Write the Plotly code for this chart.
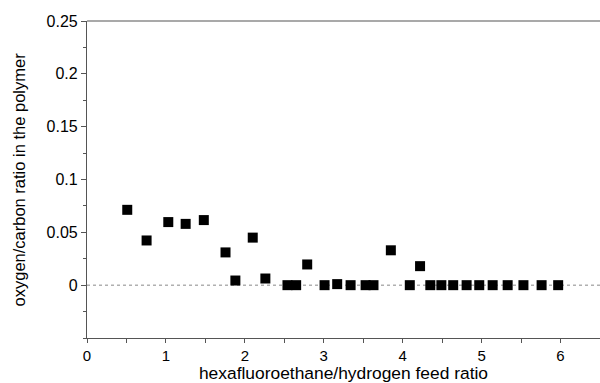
import plotly.graph_objects as go

feed_ratio = [0.51, 0.755, 1.03, 1.25, 1.48, 1.755, 1.88, 2.10, 2.26, 2.54, 2.65,
              2.79, 3.01, 3.17, 3.34, 3.53, 3.63, 3.85, 4.09, 4.22, 4.35, 4.49,
              4.64, 4.81, 4.97, 5.14, 5.33, 5.53, 5.76, 5.97]
oc_ratio = [0.0713, 0.0423, 0.0597, 0.058, 0.0616, 0.031, 0.0044, 0.045, 0.0063, 0.0, 0.0,
            0.0196, 0.0, 0.001, 0.0, 0.0, 0.0, 0.033, 0.0, 0.018, 0.0, 0.0,
            0.0, 0.0, 0.0, 0.0, 0.0, 0.0, 0.0, 0.0]
y_tickvals = [0, 0.05, 0.1, 0.15, 0.2, 0.25]
y_ticktext = ["0", "0.05", "0.1", "0.15", "0.2", "0.25"]
x_tickvals = [0, 1, 2, 3, 4, 5, 6]
x_ticktext = ["0", "1", "2", "3", "4", "5", "6"]
x_title = "hexafluoroethane/hydrogen feed ratio"
y_title = "oxygen/carbon ratio in the polymer"

font = "Liberation Sans, Arial, sans-serif"

fig = go.Figure()
fig.add_trace(go.Scatter(
    x=feed_ratio, y=oc_ratio, mode="markers",
    marker=dict(symbol="square", size=10, color="black"),
    showlegend=False, cliponaxis=False,
))

fig.add_shape(type="line", xref="x", yref="y", x0=0, x1=6.5, y0=0, y1=0,
              line=dict(color="#b0b0b0", width=1.5, dash="dot"), layer="below")
fig.add_shape(type="line", xref="paper", yref="paper", x0=0, x1=1, y0=1, y1=1,
              line=dict(color="#555555", width=1.2))

fig.add_annotation(text=y_title, xref="paper", yref="paper",
                   x=-0.1326, y=0.5, xanchor="center", yanchor="middle",
                   textangle=-90, showarrow=False,
                   font=dict(family=font, size=16.5, color="black"))

fig.update_layout(
    width=600, height=383,
    margin=dict(l=87, r=0, t=21, b=45),
    paper_bgcolor="white", plot_bgcolor="white",
    font=dict(family=font, size=16, color="black"),
    xaxis=dict(
        range=[0, 6.5], showgrid=False, zeroline=False,
        showline=True, linecolor="#555555", linewidth=1.2,
        tickmode="array", tickvals=x_tickvals, ticktext=x_ticktext,
        ticks="outside", ticklen=4, tickcolor="#555555",
        minor=dict(dtick=0.5, tick0=0, ticks="outside", ticklen=4, tickcolor="#555555"),
        title=dict(text=x_title, standoff=4, font=dict(size=17.4)),
        tickfont=dict(size=15),
    ),
    yaxis=dict(
        range=[-0.05, 0.25], showgrid=False, zeroline=False,
        showline=True, linecolor="#555555", linewidth=1.2,
        tickmode="array", tickvals=y_tickvals, ticktext=y_ticktext,
        ticks="outside", ticklen=5, tickcolor="#555555",
        minor=dict(dtick=0.025, tick0=0, ticks="outside", ticklen=3, tickcolor="#555555"),
        tickfont=dict(size=16),
    ),
)

fig.write_html("out.html")
